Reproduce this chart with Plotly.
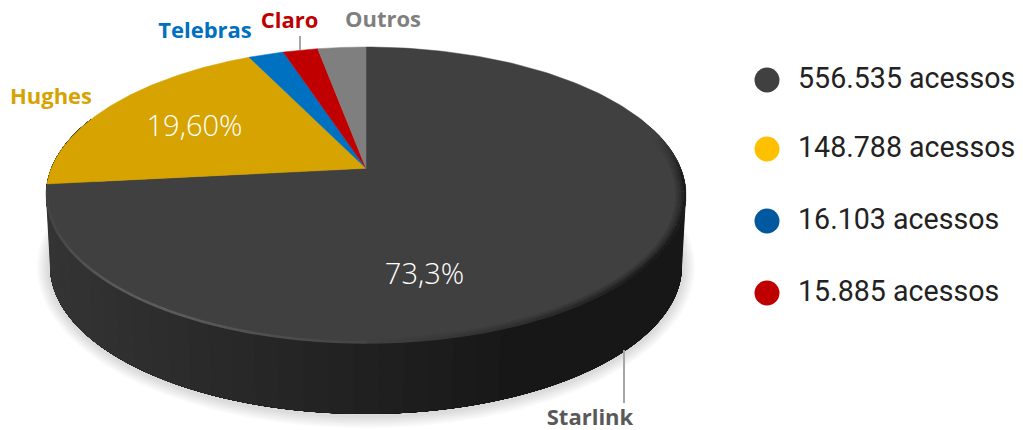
import numpy as np
import plotly.graph_objects as go

# ---- data ----
categories = ["Starlink", "Hughes", "Telebras", "Claro", "Outros"]
values = [556535, 148788, 16103, 15885, 21945]
slice_colors = ["#404040", "#D6A300", "#0070C0", "#C00000", "#7F7F7F"]
label_colors = ["#595959", "#D6A300", "#0070C0", "#C00000", "#7F7F7F"]
legend_values = ["556.535", "148.788", "16.103", "15.885"]
legend_colors = ["#404040", "#FFC000", "#00589F", "#C00000"]
pct_labels = ["73,3%", "19,60%"]

# ---- projection of the tilted disc ----
CX, CY, RX, RY, E = 366.0, 195.0, 320.0, 148.0, 0.18
BCX, BCY, BRX, BRY = 366.0, 266.0, 316.0, 148.0


def top(theta, scale=1.0):
    s, c = np.sin(theta), np.cos(theta)
    yn = (c + E) / (1 + E * c)
    xn = s * np.sqrt(1 - E * E) / (1 + E * c)
    return CX + RX * scale * xn, CY - RY * scale * yn


def bottom(theta, grow=0.0, dy=0.0):
    s, c = np.sin(theta), np.cos(theta)
    yn = (c + E) / (1 + E * c)
    xn = s * np.sqrt(1 - E * E) / (1 + E * c)
    return BCX + (BRX + grow) * xn, BCY + dy - (BRY + grow) * yn


def mix(a, b, t):
    t = float(np.clip(t, 0, 1))
    v = [round(a[i] + (b[i] - a[i]) * t) for i in range(3)]
    return f"rgb({v[0]},{v[1]},{v[2]})"


def add_poly(fig, x, y, color, edge=True):
    line = dict(color=color, width=0.5) if edge else dict(width=0)
    fig.add_trace(go.Scatter(x=np.round(x, 2), y=np.round(y, 2), mode="lines", fill="toself",
                             fillcolor=color, line=line, hoverinfo="skip"))


fig = go.Figure()
full = np.linspace(0, 2 * np.pi, 361)

# soft shadow
for g in [13, 11, 9, 7, 5, 3]:
    x, y = bottom(full, g, 1)
    fig.add_trace(go.Scatter(x=np.round(x, 2), y=np.round(y, 2), mode="lines", fill="toself",
                             fillcolor="rgba(0,0,0,0.022)", line=dict(width=0), hoverinfo="skip"))

# side wall, shaded left to right: every band runs to the far end and is overpainted
far = np.pi * 1.62
for a in np.linspace(np.pi * 0.38, far, 60)[:-1]:
    th = np.linspace(a, far, 120)
    xa, ya = top(th)
    xb, yb = bottom(th[::-1])
    t = (xa[0] - 50) / 480
    add_poly(fig, np.r_[xa, xb], np.r_[ya, yb], mix((52, 52, 52), (23, 23, 23), t), edge=False)

# top face: slices come from the values
total = sum(values)
fractions = np.cumsum([0] + values) / total
apex_x, apex_y = float(CX), float(CY - RY * E)
for i, color in enumerate(slice_colors):
    th = np.linspace(fractions[i], fractions[i + 1], 200) * 2 * np.pi
    x, y = top(th)
    add_poly(fig, np.r_[apex_x, x, apex_x], np.r_[apex_y, y, apex_y], color)

# soft dark fall-off on the right of the rim, light on the left of it
rim = np.linspace(np.pi * 0.42, np.pi * 1.46, 105)
for scale, weight, glow_on in [(0.972, 0.22, False), (0.98, 0.42, False), (0.988, 0.68, False), (0.996, 1.0, True)]:
    for a, b in zip(rim[:-1], rim[1:]):
        mid = (a + b) / 2
        glow = np.exp(-((mid - np.pi * 1.2) / (np.pi * 0.15)) ** 2)
        shade = np.clip((np.pi * 1.0 - mid) / (np.pi * 0.3), 0, 1) * np.clip((mid - np.pi * 0.42) / (np.pi * 0.1), 0, 1)
        if shade <= 0 and not glow_on:
            continue
        if shade > 0:
            col = mix((64, 64, 64), (26, 26, 26), shade * weight)
        else:
            col = mix((64, 64, 64), (92, 92, 92), glow)
        x, y = top(np.array([a, b]), scale)
        fig.add_trace(go.Scatter(x=np.round(x, 2), y=np.round(y, 2), mode="lines",
                                 line=dict(color=col, width=2.6), hoverinfo="skip"))

# leader lines
for x, y in [([300, 300], [36, 50]), ([624, 624], [350, 403])]:
    fig.add_trace(go.Scatter(x=x, y=y, mode="lines", line=dict(color="#A6A6A6", width=2), hoverinfo="skip"))

# category labels
label_x = [590, 51, 205, 289.5, 383]
label_y = [419, 98, 32, 22, 21]
fig.add_trace(go.Scatter(
    x=label_x, y=label_y, mode="text", text=[f"<b>{c}</b>" for c in categories],
    textposition="middle center", hoverinfo="skip",
    textfont=dict(family="Open Sans", size=22, color=label_colors)))

# percent labels
fig.add_trace(go.Scatter(
    x=[424.5, 194.5], y=[277, 129], mode="text", text=pct_labels, textposition="middle center",
    hoverinfo="skip", textfont=dict(family="Open Sans", size=29, weight=300, color="white")))

# legend
leg_y = [80, 149, 221, 293]
fig.add_trace(go.Scatter(
    x=[767] * 4, y=leg_y, mode="markers", hoverinfo="skip",
    marker=dict(size=25, color=legend_colors, line=dict(width=0))))
fig.add_trace(go.Scatter(
    x=[798] * 4, y=[v + 1 for v in leg_y], mode="text", text=[f"{v} acessos" for v in legend_values],
    textposition="middle right", hoverinfo="skip",
    textfont=dict(family="Roboto", size=28.6, color="#222222")))

fig.update_layout(
    width=1023, height=430, margin=dict(l=0, r=0, t=0, b=0), showlegend=False,
    paper_bgcolor="white", plot_bgcolor="white",
    xaxis=dict(range=[0, 1023], visible=False, fixedrange=True),
    yaxis=dict(range=[430, 0], visible=False, fixedrange=True),
)
fig.write_html("out.html", config={"displayModeBar": False},
               post_script="document.body.style.margin='0';")
